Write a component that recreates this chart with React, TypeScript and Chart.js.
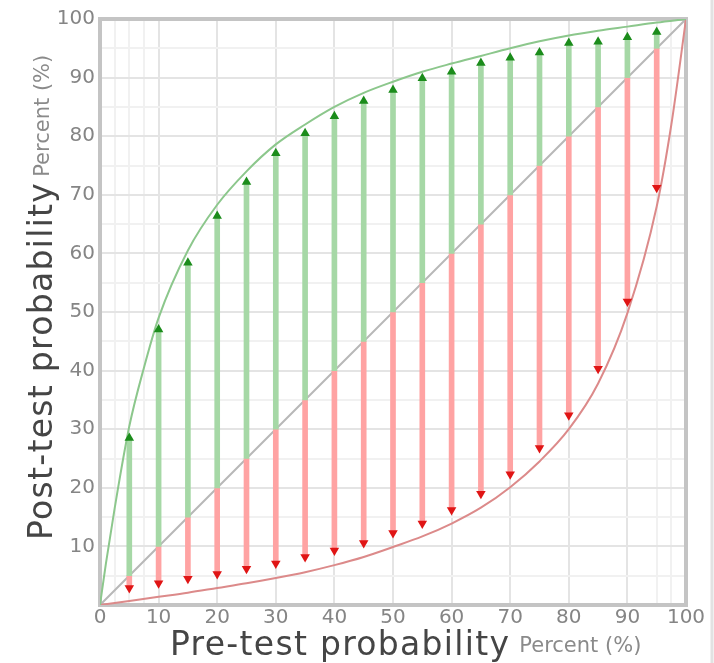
import React, { useEffect, useRef } from "react";
import { Chart, registerables } from "chart.js";

Chart.register(...registerables);

// ---- data ----
const PRE_TEST = [5, 10, 15, 20, 25, 30, 35, 40, 45, 50, 55, 60, 65, 70, 75, 80, 85, 90, 95];
const POS_ARROW = [28.5, 47, 58.4, 66.4, 72.2, 77.1, 80.5, 83.4, 86, 87.9, 89.9, 91, 92.5, 93.4, 94.3, 95.9, 96.1, 96.9, 97.8];
const NEG_ARROW = [2.9, 3.7, 4.5, 5.3, 6.2, 7.1, 8.2, 9.3, 10.6, 12.3, 13.9, 16.2, 19.0, 22.3, 26.8, 32.4, 40.3, 51.8, 71.2];

const POS_CURVE_X = [0, 1, 2.5, 5, 7.5, 10, 15, 20, 25, 30, 35, 40, 45, 50, 55, 60, 65, 70, 75, 80, 85, 90, 95, 100];
const POS_CURVE_Y = [0, 7, 16.5, 30.5, 40.5, 49, 60.5, 68.3, 74, 78.6, 82, 85, 87.4, 89.3, 91, 92.4, 93.7, 95, 96.2, 97.2, 98, 98.7, 99.4, 100];

const NEG_CURVE_X = [0, 5, 10, 15, 20, 25, 30, 35, 40, 45, 50, 55, 60, 65, 70, 75, 80, 85, 90, 95, 97.5, 100];
const NEG_CURVE_Y = [0, 0.7, 1.4, 2.1, 2.9, 3.7, 4.6, 5.6, 6.8, 8.2, 9.9, 11.7, 13.9, 16.6, 20.1, 24.5, 30.0, 37.8, 49.8, 68, 82, 100];

const DIAGONAL = [0, 100];

const X_TICKS = [0, 2.5, 5, 7.5, 10, 20, 30, 40, 50, 60, 70, 80, 90, 95, 97.5, 100];
const Y_TICKS = [0, 5, 10, 15, 20, 25, 30, 35, 40, 45, 50, 55, 60, 65, 70, 75, 80, 85, 90, 95, 100];

const X_TITLE = "Pre-test probability";
const Y_TITLE = "Post-test probability";
const UNIT_LABEL = "Percent (%)";

// ---- styles ----
const FONT = '"DejaVu Sans", Verdana, sans-serif';
const GREEN_BAR = "#a6d8a6";
const RED_BAR = "#ffa3a3";
const GREEN_LINE = "#8cc78c";
const RED_LINE = "#dc8a8a";
const GREEN_HEAD = "#1b8c1b";
const RED_HEAD = "#e01515";
const GRID_MAJOR = "#e4e4e4";
const GRID_MINOR = "#f1f1f1";
const FRAME = "#c4c4c4";
const TICK_COLOR = "#858585";

const framePlugin = {
  id: "frameAndTitles",
  beforeDatasetsDraw(chart: any) {
    const { ctx, chartArea: ca } = chart;
    ctx.save();
    ctx.strokeStyle = FRAME;
    ctx.lineWidth = 4;
    ctx.strokeRect(ca.left, ca.top, ca.right - ca.left, ca.bottom - ca.top);
    ctx.restore();
  },
  afterDraw(chart: any) {
    const { ctx, chartArea: ca, width, height } = chart;
    ctx.save();
    // right edge line of the picture
    ctx.strokeStyle = "#e2e2e2";
    ctx.lineWidth = 3;
    ctx.beginPath();
    ctx.moveTo(width - 2, 0);
    ctx.lineTo(width - 2, height);
    ctx.stroke();

    // x title
    ctx.textAlign = "left";
    ctx.textBaseline = "alphabetic";
    ctx.fillStyle = "#454545";
    ctx.font = `33px ${FONT}`;
    (ctx as any).letterSpacing = "1.3px";
    const xl = ca.left + 70;
    const xb = ca.bottom + 50;
    ctx.fillText(X_TITLE, xl, xb);
    const wx = ctx.measureText(X_TITLE).width;
    ctx.font = `21px ${FONT}`;
    (ctx as any).letterSpacing = "0px";
    ctx.fillStyle = "#8a8a8a";
    ctx.fillText(UNIT_LABEL, xl + wx + 9, xb - 3);

    // y title
    ctx.translate(ca.left - 48, ca.bottom - 65);
    ctx.rotate(-Math.PI / 2);
    ctx.fillStyle = "#454545";
    ctx.font = `33px ${FONT}`;
    (ctx as any).letterSpacing = "1.3px";
    ctx.fillText(Y_TITLE, 0, 0);
    const wy = ctx.measureText(Y_TITLE).width;
    ctx.font = `21px ${FONT}`;
    (ctx as any).letterSpacing = "0px";
    ctx.fillStyle = "#8a8a8a";
    ctx.fillText(UNIT_LABEL, wy + 5, -3);
    ctx.restore();
  },
};

export default function App() {
  const canvasRef = useRef<HTMLCanvasElement | null>(null);

  useEffect(() => {
    document.body.style.margin = "0";
    const canvas = canvasRef.current;
    if (!canvas) return;

    const posBars = PRE_TEST.map((p, i) => ({ x: p, y: [p, POS_ARROW[i]] }));
    const negBars = PRE_TEST.map((p, i) => ({ x: p, y: [p, NEG_ARROW[i]] }));
    const posHeads = PRE_TEST.map((p, i) => ({ x: p, y: POS_ARROW[i] }));
    const negHeads = PRE_TEST.map((p, i) => ({ x: p, y: NEG_ARROW[i] }));
    const posCurve = POS_CURVE_X.map((x, i) => ({ x, y: POS_CURVE_Y[i] }));
    const negCurve = NEG_CURVE_X.map((x, i) => ({ x, y: NEG_CURVE_Y[i] }));
    const diag = DIAGONAL.map((v) => ({ x: v, y: v }));

    const chart = new Chart(canvas, {
      type: "bar",
      data: {
        datasets: [
          {
            type: "line",
            data: diag,
            borderColor: "#b8b8b8",
            borderWidth: 2,
            pointRadius: 0,
            order: 5,
          } as any,
          {
            type: "bar",
            data: posBars as any,
            backgroundColor: GREEN_BAR,
            barThickness: 5,
            grouped: false,
            borderWidth: 0,
            order: 4,
          } as any,
          {
            type: "bar",
            data: negBars as any,
            backgroundColor: RED_BAR,
            barThickness: 5,
            grouped: false,
            borderWidth: 0,
            order: 4,
          } as any,
          {
            type: "line",
            data: posCurve,
            borderColor: GREEN_LINE,
            borderWidth: 2,
            pointRadius: 0,
            cubicInterpolationMode: "monotone",
            order: 2,
          } as any,
          {
            type: "line",
            data: negCurve,
            borderColor: RED_LINE,
            borderWidth: 2,
            pointRadius: 0,
            cubicInterpolationMode: "monotone",
            order: 2,
          } as any,
          {
            type: "line",
            data: posHeads,
            showLine: false,
            pointStyle: "triangle",
            pointRadius: 5.5,
            pointBackgroundColor: GREEN_HEAD,
            pointBorderColor: GREEN_HEAD,
            pointBorderWidth: 0,
            order: 0,
          } as any,
          {
            type: "line",
            data: negHeads,
            showLine: false,
            pointStyle: "triangle",
            pointRotation: 180,
            pointRadius: 5.5,
            pointBackgroundColor: RED_HEAD,
            pointBorderColor: RED_HEAD,
            pointBorderWidth: 0,
            order: 0,
          } as any,
        ],
      },
      options: {
        animation: false,
        responsive: false,
        devicePixelRatio: 1,
        layout: { padding: { top: 19, right: 28, left: 0, bottom: 0 } },
        plugins: {
          legend: { display: false },
          tooltip: { enabled: false },
        },
        font: { family: FONT },
        scales: {
          x: {
            type: "linear",
            min: 0,
            max: 100,
            offset: false,
            afterBuildTicks: (s: any) => {
              s.ticks = X_TICKS.map((v) => ({ value: v }));
            },
            afterFit: (s: any) => {
              s.height = 58;
            },
            ticks: {
              autoSkip: false,
              maxRotation: 0,
              padding: 1,
              color: TICK_COLOR,
              font: { family: FONT, size: 20 },
              callback: (v: any) => (Number(v) % 10 === 0 ? String(v) : ""),
            },
            grid: {
              offset: false,
              drawTicks: false,
              color: (c: any) => (c.tick && c.tick.value % 10 === 0 ? GRID_MAJOR : GRID_MINOR),
              lineWidth: 2,
            },
            border: { display: false },
          },
          y: {
            type: "linear",
            min: 0,
            max: 100,
            afterBuildTicks: (s: any) => {
              s.ticks = Y_TICKS.map((v) => ({ value: v }));
            },
            afterFit: (s: any) => {
              s.width = 100;
            },
            ticks: {
              autoSkip: false,
              padding: 5,
              color: TICK_COLOR,
              font: { family: FONT, size: 20 },
              callback: (v: any) => (Number(v) % 10 === 0 && Number(v) !== 0 ? String(v) : ""),
            },
            grid: {
              drawTicks: false,
              color: (c: any) => (c.tick && c.tick.value % 10 === 0 ? GRID_MAJOR : GRID_MINOR),
              lineWidth: 2,
            },
            border: { display: false },
          },
        },
      } as any,
      plugins: [framePlugin],
    });

    return () => chart.destroy();
  }, []);

  return (
    <div style={{ width: 714, height: 663 }}>
      <canvas ref={canvasRef} width={714} height={663} style={{ display: "block" }} />
    </div>
  );
}
